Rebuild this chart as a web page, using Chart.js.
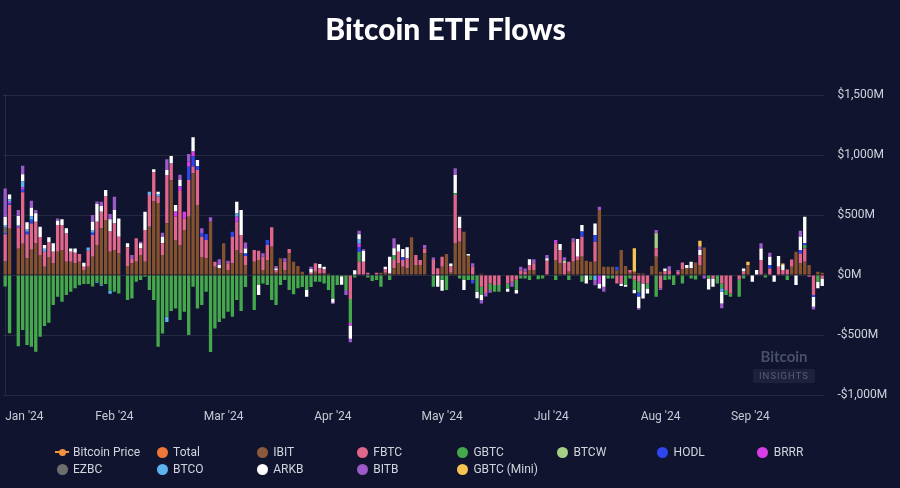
<!DOCTYPE html>
<html><head><meta charset="utf-8">
<script src="https://cdn.jsdelivr.net/npm/chart.js@4.4.1/dist/chart.umd.min.js"></script>
<style>
html,body{margin:0;padding:0;background:#11142e;}
#wrap{position:relative;width:900px;height:488px;overflow:hidden;background:#11142e;font-family:Roboto,"Liberation Sans",sans-serif;}
#c{position:absolute;left:0;top:0;}
.li{position:absolute;height:14px;line-height:14px;font-size:12px;color:#d2d5de;white-space:nowrap;}
.mk{position:absolute;width:11px;height:11px;border-radius:50%;left:-5.5px;top:1.5px;}
.ln{position:absolute;width:14px;height:2px;left:-7px;top:6px;}
.dot{position:absolute;width:7px;height:7px;border-radius:50%;left:-3.5px;top:3.5px;}
.tx{position:absolute;left:11px;top:0;}
#wm1{position:absolute;left:753px;top:347px;width:62px;text-align:center;font-family:Lato,sans-serif;font-weight:bold;font-size:15px;color:#4a4f6b;}
#wm2{position:absolute;left:753px;top:369px;width:62px;height:14px;line-height:14px;text-align:center;font-family:Roboto,sans-serif;font-size:9.5px;letter-spacing:1px;color:#575c78;background:rgba(255,255,255,0.06);border-radius:2px;}
</style></head><body>
<div id="wrap"><canvas id="c" width="900" height="488"></canvas><div id="legend"></div>
<div id="wm1">Bitcoin</div><div id="wm2">INSIGHTS</div></div>
<script>
const categories = [
"2024-01-11","2024-01-12","2024-01-15","2024-01-16","2024-01-17","2024-01-18","2024-01-19","2024-01-22","2024-01-23","2024-01-24","2024-01-25","2024-01-26","2024-01-29","2024-01-30","2024-01-31",
"2024-02-01","2024-02-02","2024-02-05","2024-02-06","2024-02-07","2024-02-08","2024-02-09","2024-02-12","2024-02-13","2024-02-14","2024-02-15","2024-02-16","2024-02-19","2024-02-20","2024-02-21","2024-02-22","2024-02-23","2024-02-26","2024-02-27","2024-02-28","2024-02-29",
"2024-03-01","2024-03-04","2024-03-05","2024-03-06","2024-03-07","2024-03-08","2024-03-11","2024-03-12","2024-03-13","2024-03-14","2024-03-15","2024-03-18","2024-03-19","2024-03-20","2024-03-21","2024-03-22","2024-03-25","2024-03-26","2024-03-27","2024-03-28","2024-03-29",
"2024-04-01","2024-04-02","2024-04-03","2024-04-04","2024-04-05","2024-04-08","2024-04-09","2024-04-10","2024-04-11","2024-04-12","2024-04-15","2024-04-16","2024-04-17","2024-04-18","2024-04-19","2024-04-22","2024-04-23","2024-04-24","2024-04-25","2024-04-26","2024-04-29","2024-04-30",
"2024-05-01","2024-05-02","2024-05-03","2024-05-06","2024-05-07","2024-05-08","2024-05-09","2024-05-10","2024-05-13","2024-05-14","2024-05-15","2024-05-16","2024-05-17","2024-05-20","2024-05-21","2024-05-22","2024-05-23","2024-05-24","2024-05-27","2024-05-28","2024-05-29","2024-05-30","2024-05-31",
"2024-06-03","2024-06-04","2024-06-05","2024-06-06","2024-06-07","2024-06-10","2024-06-11","2024-06-12","2024-06-13","2024-06-14","2024-06-17","2024-06-18","2024-06-19","2024-06-20","2024-06-21","2024-06-24","2024-06-25","2024-06-26","2024-06-27","2024-06-28",
"2024-07-01","2024-07-02","2024-07-03","2024-07-04","2024-07-05","2024-07-08","2024-07-09","2024-07-10","2024-07-11","2024-07-12","2024-07-15","2024-07-16","2024-07-17","2024-07-18","2024-07-19","2024-07-22","2024-07-23","2024-07-24","2024-07-25","2024-07-26","2024-07-29","2024-07-30","2024-07-31",
"2024-08-01","2024-08-02","2024-08-05","2024-08-06","2024-08-07","2024-08-08","2024-08-09","2024-08-12","2024-08-13","2024-08-14","2024-08-15","2024-08-16","2024-08-19","2024-08-20","2024-08-21","2024-08-22","2024-08-23","2024-08-26","2024-08-27","2024-08-28","2024-08-29","2024-08-30",
"2024-09-02","2024-09-03","2024-09-04","2024-09-05","2024-09-06","2024-09-09","2024-09-10","2024-09-11","2024-09-12","2024-09-13","2024-09-16","2024-09-17","2024-09-18","2024-09-19","2024-09-20","2024-09-23","2024-09-24","2024-09-25","2024-09-26","2024-09-27","2024-09-30"];

const tickLabels = ["Jan '24","Feb '24","Mar '24","Apr '24","May '24","Jul '24","Aug '24","Sep '24"];
const tickEvery = 25;

const IBIT = [112,386,0,220,260,140,210,265,167,70,
150,97,195,209,111,111,97,111,42,70,
153,250,389,459,195,208,180,0,75,97,
111,167,111,403,612,600,167,431,790,292,
250,375,486,848,584,150,139,445,69,56,
264,42,97,208,180,83,0,111,125,42,
125,236,20,139,42,180,111,75,28,0,
0,28,14,14,10,0,0,0,0,0,
0,0,0,0,0,0,20,20,0,56,
97,70,56,314,83,83,180,0,0,0,
70,175,20,267,278,361,160,0,0,10,
0,0,0,0,0,0,0,0,0,0,
42,42,0,0,0,0,125,97,0,28,
111,125,153,120,111,111,542,70,70,70,
40,208,75,20,28,15,14,0,75,153,
28,0,0,0,0,50,56,56,105,83,
230,0,0,0,0,0,0,0,0,0,
83,0,0,0,10,0,0,0,0,0,
70,195,97,111,83,0,28,20];

const FBTC = [227,200,0,175,430,200,220,180,150,125,
125,97,222,208,236,83,89,64,28,133,
180,195,139,195,167,222,139,0,156,42,
195,55,264,264,245,55,97,403,139,195,
450,97,306,56,292,170,153,0,42,0,
0,56,222,236,153,75,0,97,78,111,
125,162,20,0,70,37,0,0,0,0,
20,70,42,36,0,0,0,0,0,-200,
0,110,111,20,0,20,0,30,14,70,
97,56,83,0,84,42,42,0,125,56,
83,0,55,400,111,0,0,70,0,-97,
-150,-70,-83,-83,0,-70,-55,-40,40,30,
42,56,5,0,120,0,140,111,100,83,
167,28,167,0,0,167,0,0,0,0,
-70,-70,0,22,-40,-55,-70,-70,0,70,
-111,30,40,0,30,55,0,0,0,83,
0,0,-28,0,-70,-125,-153,0,-40,30,
0,0,0,125,0,55,0,70,42,47,
60,0,83,111,-14,-167,0,-28];

const GBTC = [-95,-484,0,-594,-458,-583,-597,-639,-514,-425,
-397,-250,-180,-222,-167,-140,-110,-85,-75,-75,
-95,-55,-80,-75,-130,-140,-153,0,-208,-195,
-55,-42,-14,-125,-208,-598,-487,-348,-300,-278,
-375,-306,-500,-97,-278,-250,-139,-640,-445,-390,
-361,-306,-347,-208,-300,-100,0,-292,-83,-70,
-83,-208,-250,-83,-42,-125,-160,-110,-100,-125,
-100,-55,-55,-70,-125,-195,-83,-10,-125,-200,
-20,83,0,-20,-50,-42,-97,0,-42,42,
0,0,0,0,0,0,0,0,-97,0,
-40,-125,0,14,-28,-42,-42,-42,-139,-70,
0,-55,-55,-55,0,-42,0,-83,-28,-28,
-42,0,-35,-28,0,0,-42,0,0,-42,
0,0,-55,0,-42,0,0,0,-28,-28,
0,0,-83,-28,-83,-90,0,-42,0,-180,
0,-42,-36,-83,0,-70,0,-28,-36,0,
0,-28,0,-70,-40,-42,-28,0,-140,-28,
0,0,0,0,-20,0,0,0,0,-42,
0,0,0,28,0,0,-55,0];

const BTCW = [1,0,0,0,0,0,0,0,0,0,
0,0,0,0,0,0,0,0,0,0, 0,0,0,0,0,0,0,0,0,0, 0,0,0,0,0,0,0,0,0,0,
0,0,0,0,0,0,0,0,0,0, 0,0,0,0,0,0,0,0,0,0, 0,0,0,0,0,0,0,0,0,0,
0,0,0,0,0,0,0,0,0,0, 0,0,0,0,0,0,0,0,0,0, 0,0,0,0,0,0,0,0,0,0,
0,0,0,0,0,0,0,0,0,0, 0,0,0,0,0,0,0,0,0,0,
0,0,0,0,0,0,0,0,20,0,
0,0,0,0,0,0,0,0,0,0,
0,0,0,0,0,0,0,0,0,125,
0,0,0,0,0,0,0,0,0,0, 0,0,0,0,0,0,0,0,0,0, 0,0,0,0,0,0,0,0,0,0,
0,0,0,0,0,0,0,0];

const HODL = [11,15,0,0,20,20,30,0,0,0,
0,0,0,0,0,0,0,0,0,0,
20,0,0,0,0,0,0,0,0,0,
0,0,0,0,0,0,0,0,0,0,
0,0,111,83,33,30,50,0,0,0,
0,0,42,0,0,22,0,0,0,0,
42,0,0,0,0,0,0,0,0,0,
0,0,0,0,0,0,0,0,0,0,
0,40,0,0,0,0,0,0,0,0,
0,22,0,0,0,0,0,0,0,0,
0,0,0,0,0,0,0,-28,0,0,
0,0,0,0,0,0,0,0,0,0,
0,0,0,0,0,0,0,0,0,0,
0,0,42,0,0,55,0,0,0,0,
30,0,0,0,0,-33,0,0,0,0,
0,0,0,0,0,0,0,0,0,0,
0,0,0,0,0,0,0,0,0,0,
0,0,0,0,0,28,0,0,0,0,
0,0,28,14,0,-14,0,0];

const BRRR = [0,10,0,8,20,0,0,0,0,0,
0,0,0,0,0,0,0,0,0,0,
0,0,0,0,0,0,0,0,0,0,
0,0,0,0,0,0,0,0,0,42,
40,56,42,42,0,0,0,0,0,0,
0,0,0,42,0,0,0,0,0,0,
0,0,0,0,0,0,0,0,0,0,
0,0,0,0,0,0,0,0,0,-20,
0,28,0,0,0,0,0,0,0,0,
0,0,0,0,0,0,0,0,0,0,
0,0,0,0,0,0,0,0,0,0,
0,0,0,0,0,0,0,0,0,0,
0,0,0,0,0,0,28,0,0,0,
0,0,0,0,0,0,-70,0,0,0,
0,0,0,0,0,0,0,0,0,0,
0,0,0,0,0,0,0,0,0,0,
0,0,0,0,0,0,0,0,0,0,
0,0,0,0,0,0,0,0,0,0,
0,0,0,0,0,0,0,0];

const EZBC = [50,0,0,0,0,0,0,0,0,0,
0,0,0,0,0,0,0,0,0,0, 0,0,0,0,0,0,0,0,0,0, 0,0,0,0,0,0,0,0,0,0,
0,0,0,0,0,0,0,0,0,0, 0,0,0,0,0,0,0,0,0,0, 0,0,0,0,0,0,0,0,0,0,
0,0,0,0,0,0,0,0,0,0, 0,0,0,0,0,0,0,0,0,0, 0,0,0,0,0,0,0,0,0,0,
0,0,0,0,0,0,0,0,0,0, 0,0,0,0,0,0,0,0,0,0, 0,0,0,0,0,0,0,0,0,0,
0,0,0,0,0,0,0,0,0,0, 0,0,0,0,0,0,0,0,0,0, 0,0,0,0,0,0,0,0,0,0,
0,0,0,0,0,0,0,0,0,0, 0,0,0,0,0,0,0,0,0,0,
0,0,0,0,0,0,0,0];

const BTCO = [17,20,0,10,50,20,30,0,0,25,
0,0,0,0,0,0,0,0,0,27,
22,-10,-10,0,-25,0,0,0,0,0,
0,0,0,28,0,20,0,-42,0,0,
0,0,0,0,0,0,0,0,0,0,
0,0,0,28,0,0,0,0,0,0,
0,0,0,0,0,0,0,0,0,0,
0,0,0,0,0,0,0,0,0,0,
0,40,0,0,0,0,0,0,0,0,
0,0,0,0,0,0,0,0,0,0,
0,0,0,0,0,0,0,0,0,0,
0,0,0,0,0,0,0,0,0,0,
0,0,0,0,0,0,0,0,0,0,
0,0,0,0,0,-42,0,0,0,0,
0,0,0,0,0,0,0,0,0,0,
0,0,0,0,0,0,0,0,0,0,
0,0,0,0,-30,0,0,0,0,0,
0,0,0,0,0,0,0,0,0,0,
0,0,0,0,0,0,0,0];

const ARKB = [65,40,0,80,60,60,70,70,85,30,
40,70,35,47,42,28,36,0,33,0,
70,147,47,55,103,111,153,0,33,0,
0,42,153,0,24,20,55,42,62,55,
55,0,0,120,50,0,0,0,0,28,
0,0,0,97,208,42,0,0,-83,0,
0,0,15,0,0,0,0,0,0,-55,
30,0,36,20,0,-36,0,-70,0,-110,
40,40,89,0,0,0,0,20,139,56,
61,70,92,0,0,0,0,0,0,-97,
-90,0,22,153,97,-83,15,0,-55,-40,
0,0,0,0,0,-28,0,-30,0,0,
47,0,0,0,20,0,0,50,0,0,
0,147,55,-70,0,97,-42,-97,0,0,
0,-22,-14,0,-28,-97,-125,-42,0,0,
0,25,0,0,0,0,27,55,0,42,
0,-92,-70,0,-97,0,0,0,0,25,
0,-55,42,97,0,70,-55,88,42,0,
0,-83,111,222,0,-83,-55,-64];

const BITB = [238,0,0,50,70,0,60,28,0,0,
0,0,20,0,0,0,0,0,0,0,
56,20,36,0,44,111,0,0,0,28,
0,14,0,0,0,0,33,89,0,0,
40,0,64,0,0,39,0,36,0,47,
0,22,0,0,0,50,0,0,0,28,
0,0,20,0,28,0,0,0,0,0,
20,0,0,0,0,-10,0,0,-42,-30,
0,28,14,0,0,0,0,0,0,83,
0,0,0,0,0,0,28,0,22,0,
0,0,0,55,0,0,0,28,0,-30,
-28,-22,0,0,0,0,-42,0,30,25,
0,33,0,0,28,0,0,0,28,0,
28,0,0,0,0,-42,28,-42,0,0,
0,0,0,0,0,-14,0,0,0,28,
-14,0,33,0,12,0,0,0,0,28,
-28,0,0,0,-40,0,0,0,0,0,
0,0,0,42,0,33,0,0,0,0,
0,0,50,0,0,-22,0,0];

const GBTC_MINI = [0,0,0,0,0,0,0,0,0,0,
0,0,0,0,0,0,0,0,0,0, 0,0,0,0,0,0,0,0,0,0, 0,0,0,0,0,0,0,0,0,0,
0,0,0,0,0,0,0,0,0,0, 0,0,0,0,0,0,0,0,0,0, 0,0,0,0,0,0,0,0,0,0,
0,0,0,0,0,0,0,0,0,0, 0,0,0,0,0,0,0,0,0,0, 0,0,0,0,0,0,0,0,0,0,
0,0,0,0,0,0,0,0,0,0, 0,0,0,0,0,0,0,0,0,0, 0,0,0,0,0,0,0,0,0,0,
0,0,0,0,0,0,0,0,0,0,
0,0,0,0,195,0,0,0,0,0,
0,0,0,0,0,0,0,0,0,50,
0,0,0,0,0,0,0,0,0,0,
28,0,0,0,0,0,0,0,13,0,
0,0,0,0,0,0,0,0];

const seriesNames = ["IBIT","FBTC","GBTC","BTCW","HODL","BRRR","EZBC","BTCO","ARKB","BITB","GBTC (Mini)"];
const seriesData = [IBIT,FBTC,GBTC,BTCW,HODL,BRRR,EZBC,BTCO,ARKB,BITB,GBTC_MINI];
const seriesColors = ["#84522f","#e0668a","#45a84c","#a6cf86","#2d46ee","#d83de8","#6e6e6e","#5db2f0","#ffffff","#9b59c9","#f5c452"];

const legendNames = ["Bitcoin Price","Total","IBIT","FBTC","GBTC","BTCW","HODL","BRRR","EZBC","BTCO","ARKB","BITB","GBTC (Mini)"];
const legendColors = ["#f5923e","#f0773a","#8a5a3c","#e0668a","#45a84c","#a6cf86","#2d46ee","#d83de8","#6e6e6e","#5db2f0","#ffffff","#9b59c9","#f5c452"];

const gridColor = "rgba(255,255,255,0.09)";

function fit(a){ const r = a.slice(0, categories.length); while (r.length < categories.length) r.push(0); return r; }

new Chart(document.getElementById('c'), {
  type: 'bar',
  data: {
    labels: categories,
    datasets: seriesNames.map((n, i) => ({
      label: n, data: fit(seriesData[i]), backgroundColor: seriesColors[i],
      borderWidth: 0, barPercentage: 0.76, categoryPercentage: 1.0, stack: 'flows'
    }))
  },
  options: {
    responsive: false, maintainAspectRatio: false, animation: false,
    layout: { padding: { left: 3, right: 12, top: 0, bottom: 63.5 } },
    plugins: {
      legend: { display: false }, tooltip: { enabled: false },
      title: { display: true, text: 'Bitcoin ETF Flows', color: '#ffffff',
        font: { family: 'Lato', size: 30, weight: '900' }, padding: { top: 12, bottom: 47 } }
    },
    scales: {
      x: {
        stacked: true, offset: true,
        grid: { offset: false, drawTicks: true, tickLength: 15, tickColor: 'rgba(0,0,0,0)',
          color: (ctx) => (ctx.index % tickEvery === 0 ? gridColor : 'rgba(0,0,0,0)') },
        border: { display: false },
        ticks: { autoSkip: false, maxRotation: 0, minRotation: 0, align: 'inner', padding: 0,
          color: '#c8cbd6', font: { family: 'Roboto', size: 12 },
          callback: (v, i) => (i % tickEvery === 0 ? tickLabels[i / tickEvery] : null) }
      },
      y: {
        stacked: true, position: 'right', min: -1000, max: 1500,
        grid: { color: gridColor, drawTicks: false }, border: { display: false },
        ticks: { stepSize: 500, padding: 13, color: '#d0d3dd', font: { family: 'Roboto', size: 12 },
          callback: (v) => (v < 0 ? '-' : '') + '$' + Math.abs(v).toLocaleString('en-US') + 'M' },
        afterFit: (s) => { s.width = 63.6; }
      }
    }
  }
});

const lg = document.getElementById('legend');
legendNames.forEach((n, k) => {
  const col = k % 8, row = Math.floor(k / 8);
  const d = document.createElement('div');
  d.className = 'li';
  d.style.left = (62 + 100.1 * col) + 'px';
  d.style.top = (445 + 17 * row) + 'px';
  if (k === 0) {
    d.innerHTML = '<span class="ln" style="background:' + legendColors[k] + '"></span><span class="dot" style="background:' + legendColors[k] + '"></span>';
  } else {
    d.innerHTML = '<span class="mk" style="background:' + legendColors[k] + '"></span>';
  }
  const t = document.createElement('span'); t.className = 'tx'; t.textContent = n; d.appendChild(t);
  lg.appendChild(d);
});
</script></body></html>
